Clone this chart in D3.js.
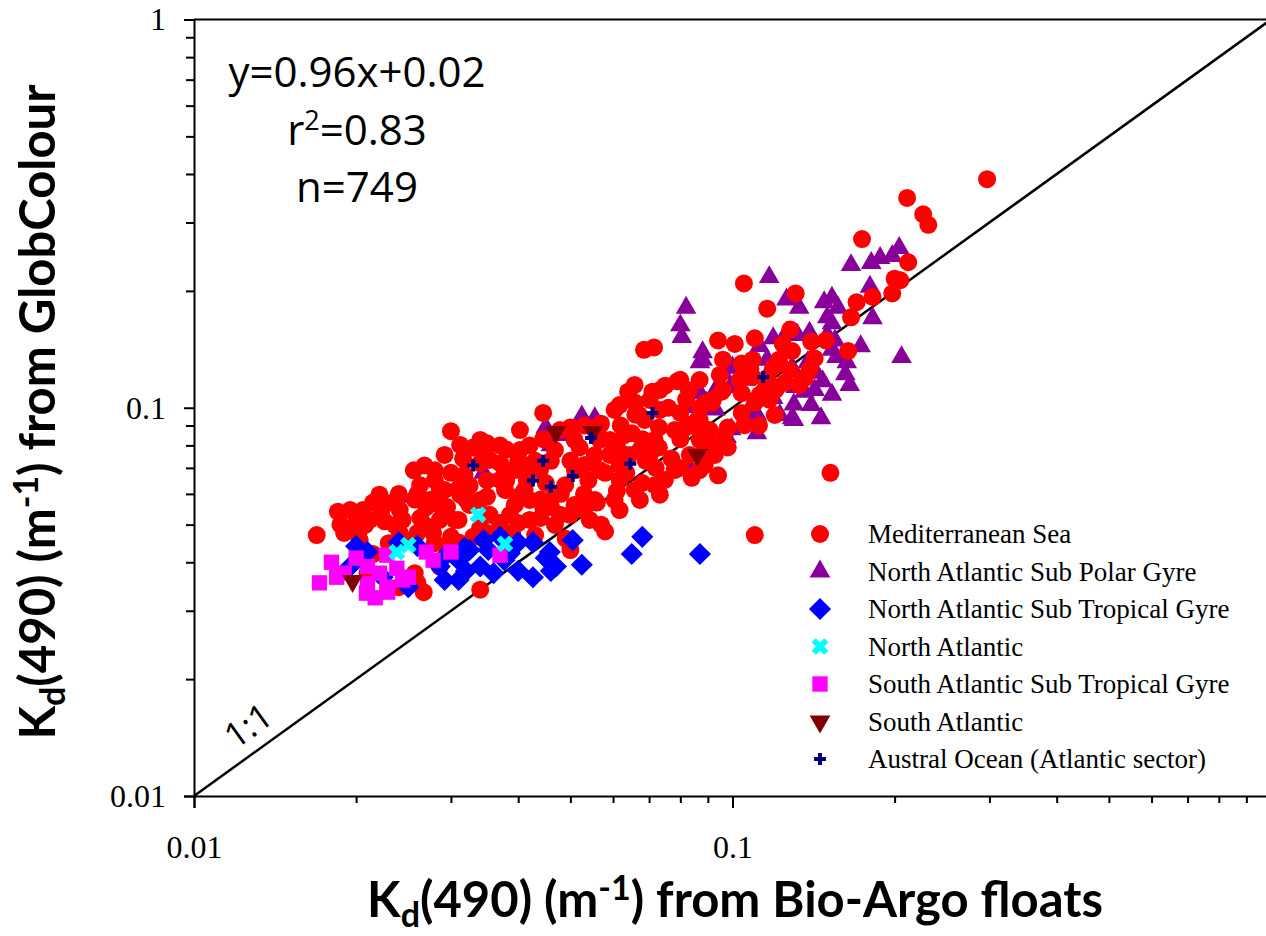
<!DOCTYPE html>
<html>
<head>
<meta charset="utf-8">
<script src="https://cdn.jsdelivr.net/npm/d3@7"></script>
<style>
    body { margin: 0; background: #fff; }
    svg { display: block; }
</style>
</head>
<body>
<div id="chart"></div>
<script>
// Kd(490) GlobColour vs Bio-Argo
var medSea = [
    [0.297, 0.388], [0.211, 0.347], [0.226, 0.315], [0.231, 0.296], [0.174, 0.272], [0.212, 0.237], [0.200, 0.215], [0.198, 0.197], [0.182, 0.193], [0.170, 0.187],
    [0.166, 0.171], [0.164, 0.140], [0.140, 0.148], [0.131, 0.197], [0.116, 0.180], [0.105, 0.209], [0.110, 0.151], [0.101, 0.146], [0.094, 0.149], [0.096, 0.133],
    [0.109, 0.133], [0.106, 0.127], [0.124, 0.146], [0.129, 0.140], [0.122, 0.133], [0.109, 0.120], [0.116, 0.119], [0.125, 0.116], [0.120, 0.111], [0.110, 0.103],
    [0.104, 0.109], [0.096, 0.111], [0.083, 0.111], [0.080, 0.118], [0.089, 0.103], [0.092, 0.105], [0.104, 0.097], [0.098, 0.089], [0.086, 0.093], [0.080, 0.097],
    [0.082, 0.089], [0.205, 0.213], [0.152, 0.068], [0.110, 0.047],
    [0.0445, 0.097], [0.050, 0.089], [0.064, 0.110], [0.071, 0.110], [0.075, 0.114], [0.079, 0.117], [0.0955, 0.110], [0.104, 0.130], [0.108, 0.126], [0.119, 0.127],
    [0.121, 0.113], [0.111, 0.105], [0.098, 0.079], [0.094, 0.067], [0.084, 0.066], [0.080, 0.070], [0.077, 0.074], [0.072, 0.070], [0.068, 0.064], [0.061, 0.061],
    [0.056, 0.057], [0.057, 0.050], [0.058, 0.048], [0.049, 0.046], [0.050, 0.043], [0.066, 0.103], [0.066, 0.096], [0.062, 0.090], [0.057, 0.091], [0.057, 0.083],
    [0.052, 0.079], [0.050, 0.073], [0.046, 0.073], [0.048, 0.060], [0.053, 0.060], [0.0445, 0.0555], [0.0625, 0.076], [0.068, 0.083], [0.073, 0.089], [0.076, 0.100],
    [0.086, 0.089], [0.087, 0.100], [0.080, 0.083], [0.073, 0.079], [0.069, 0.073], [0.0635, 0.068], [0.058, 0.068], [0.054, 0.065], [0.061, 0.081], [0.065, 0.086],
    [0.0915, 0.103], [0.082, 0.105],
    [0.030, 0.087], [0.033, 0.079], [0.035, 0.081], [0.038, 0.078], [0.0316, 0.074], [0.030, 0.068], [0.028, 0.065], [0.034, 0.072], [0.037, 0.072], [0.040, 0.073],
    [0.043, 0.073], [0.0445, 0.083], [0.024, 0.060], [0.026, 0.060], [0.0286, 0.061], [0.031, 0.062], [0.0325, 0.063], [0.035, 0.065], [0.038, 0.065], [0.0415, 0.065],
    [0.045, 0.064], [0.0215, 0.057], [0.0234, 0.057], [0.0257, 0.058], [0.0185, 0.054], [0.0206, 0.0545], [0.0223, 0.0545], [0.0241, 0.0545], [0.027, 0.0555], [0.0295, 0.0555],
    [0.032, 0.058], [0.035, 0.059], [0.040, 0.059], [0.044, 0.058], [0.046, 0.0555], [0.0187, 0.050], [0.020, 0.0505], [0.0212, 0.0514], [0.0226, 0.051], [0.0244, 0.0514],
    [0.0263, 0.052], [0.0286, 0.0514], [0.031, 0.0514], [0.034, 0.049], [0.037, 0.0505], [0.040, 0.0505], [0.044, 0.052], [0.0169, 0.047], [0.019, 0.0476], [0.0202, 0.0476],
    [0.0241, 0.0476], [0.026, 0.0476], [0.0278, 0.0476], [0.030, 0.0465], [0.033, 0.0465], [0.035, 0.0476], [0.039, 0.0476], [0.023, 0.0448], [0.028, 0.0448], [0.0295, 0.044],
    [0.031, 0.045], [0.0215, 0.042], [0.021, 0.0375], [0.0257, 0.0375], [0.0286, 0.039], [0.0267, 0.0335], [0.026, 0.0354], [0.024, 0.0345], [0.034, 0.034],
    [0.051, 0.069], [0.0555, 0.0755], [0.067, 0.096], [0.0717, 0.0826], [0.053, 0.0545], [0.0617, 0.0545], [0.042, 0.080], [0.0478, 0.0876], [0.0403, 0.0876], [0.0354, 0.0734],
    [0.0256, 0.069], [0.0869, 0.0826], [0.0907, 0.0876], [0.0927, 0.0756], [0.0833, 0.0756], [0.0749, 0.0652], [0.0644, 0.0756], [0.0555, 0.0579], [0.0499, 0.053], [0.042, 0.0579],
    [0.0394, 0.0691], [0.034, 0.0579], [0.0286, 0.056], [0.0567, 0.0691], [0.0702, 0.0756], [0.0869, 0.0691], [0.112, 0.090], [0.117, 0.105], [0.133, 0.1145], [0.139, 0.125],
    [0.149, 0.149], [0.128, 0.159],
    [0.0268, 0.071], [0.0292, 0.0756], [0.034, 0.0826], [0.037, 0.080], [0.0403, 0.0778], [0.0468, 0.0778], [0.0531, 0.090], [0.0592, 0.0756], [0.063, 0.085], [0.0687, 0.093],
    [0.0702, 0.1047], [0.0733, 0.0987], [0.0781, 0.0876], [0.0833, 0.0903], [0.0888, 0.0778], [0.0915, 0.0802], [0.0733, 0.0597], [0.0673, 0.0579], [0.0617, 0.0652], [0.0478, 0.053],
    [0.042, 0.0514], [0.0386, 0.053], [0.0354, 0.053], [0.0325, 0.0562], [0.0305, 0.0514], [0.0268, 0.0499], [0.037, 0.0652], [0.0411, 0.0614], [0.0489, 0.0632], [0.0531, 0.0712],
    [0.0439, 0.0691], [0.0312, 0.0597], [0.0274, 0.0579], [0.0221, 0.0597], [0.0203, 0.0456], [0.0252, 0.0456], [0.0567, 0.0826], [0.0604, 0.0987], [0.0658, 0.1145], [0.0869, 0.093],
    [0.1123, 0.1079], [0.1198, 0.0958], [0.1362, 0.1192], [0.1421, 0.134], [0.0685, 0.141], [0.0715, 0.143],
    [0.028, 0.069], [0.0292, 0.0614], [0.0318, 0.0672], [0.0378, 0.0614], [0.0394, 0.0562], [0.0468, 0.0597], [0.0509, 0.0562], [0.0543, 0.0514], [0.0604, 0.0579], [0.0658, 0.0614],
    [0.0717, 0.0632], [0.0781, 0.0691], [0.0888, 0.0712], [0.0617, 0.0712], [0.0673, 0.0778], [0.0567, 0.0902], [0.0617, 0.1016], [0.0509, 0.0826], [0.042, 0.0712], [0.0378, 0.0691],
    [0.0347, 0.0778], [0.0312, 0.0802], [0.0263, 0.0632], [0.0236, 0.0499], [0.0208, 0.0499], [0.0195, 0.0545], [0.0468, 0.0499], [0.043, 0.047], [0.0386, 0.0456], [0.0869, 0.0876],
    [0.0967, 0.0851], [0.1053, 0.0902], [0.1147, 0.1111], [0.1277, 0.1251], [0.1031, 0.1179], [0.0947, 0.1215], [0.0869, 0.1179], [0.0733, 0.1111], [0.0592, 0.0826]
];
var naSubPolar = [
    [0.204, 0.258], [0.198, 0.246], [0.188, 0.243], [0.181, 0.236], [0.166, 0.233], [0.117, 0.217], [0.180, 0.205], [0.153, 0.192], [0.148, 0.187], [0.126, 0.190],
    [0.133, 0.181], [0.157, 0.181], [0.150, 0.171], [0.182, 0.170], [0.153, 0.165], [0.082, 0.181], [0.080, 0.163], [0.0805, 0.152], [0.088, 0.139], [0.088, 0.133],
    [0.119, 0.151], [0.126, 0.156], [0.132, 0.154], [0.139, 0.156], [0.150, 0.154], [0.155, 0.149], [0.153, 0.141], [0.156, 0.135], [0.163, 0.131], [0.206, 0.135],
    [0.138, 0.131], [0.100, 0.127], [0.103, 0.127], [0.129, 0.127], [0.131, 0.113], [0.143, 0.123], [0.147, 0.117], [0.153, 0.108], [0.130, 0.102], [0.129, 0.094],
    [0.111, 0.086], [0.0995, 0.088], [0.093, 0.099], [0.099, 0.113], [0.116, 0.133], [0.109, 0.093], [0.087, 0.109],
    [0.0525, 0.095], [0.0555, 0.094], [0.045, 0.089], [0.049, 0.085], [0.046, 0.080], [0.0345, 0.068], [0.0255, 0.059], [0.083, 0.071], [0.082, 0.1005],
    [0.0895, 0.103], [0.093, 0.111], [0.096, 0.123], [0.111, 0.096], [0.0975, 0.084], [0.106, 0.096], [0.130, 0.093], [0.119, 0.106], [0.087, 0.131], [0.106, 0.118],
    [0.116, 0.1215], [0.146, 0.094], [0.140, 0.1016], [0.162, 0.122], [0.173, 0.144], [0.136, 0.110],
    [0.1123, 0.1442], [0.1421, 0.111], [0.1224, 0.0958], [0.1651, 0.1145]
];
var naSubTropical = [
    [0.020, 0.044], [0.021, 0.0425], [0.024, 0.045], [0.026, 0.044], [0.029, 0.041], [0.031, 0.0405], [0.0345, 0.0456], [0.037, 0.0465], [0.040, 0.045], [0.0426, 0.045],
    [0.045, 0.041], [0.031, 0.036], [0.034, 0.039], [0.036, 0.0375], [0.0377, 0.0405], [0.040, 0.038], [0.0426, 0.0366], [0.025, 0.0345], [0.0195, 0.039], [0.0224, 0.0366],
    [0.032, 0.038], [0.0286, 0.039], [0.046, 0.038], [0.0505, 0.0456], [0.068, 0.0465], [0.065, 0.042], [0.087, 0.042], [0.0525, 0.0394], [0.0458, 0.0425], [0.047, 0.039],
    [0.0386, 0.0422], [0.0352, 0.043], [0.0318, 0.0436], [0.0325, 0.043], [0.0292, 0.036]
];
var northAtlantic = [[0.0337, 0.053], [0.025, 0.0443], [0.0238, 0.0425], [0.0378, 0.0446]];
var saSubTropical = [
    [0.018, 0.040], [0.0171, 0.0354], [0.020, 0.041], [0.0228, 0.0417], [0.027, 0.0425], [0.030, 0.0425], [0.0278, 0.0405], [0.037, 0.0417], [0.019, 0.0375], [0.021, 0.039],
    [0.0221, 0.0375], [0.0238, 0.0386], [0.025, 0.0366], [0.021, 0.0352], [0.0228, 0.0345], [0.0244, 0.036], [0.0209, 0.0333], [0.0229, 0.0335], [0.0184, 0.0366], [0.0217, 0.0324]
];
var southAtlantic = [[0.0197, 0.0358], [0.047, 0.0866], [0.055, 0.0866], [0.086, 0.0756]];
var australOcean = [[0.033, 0.071], [0.0445, 0.073], [0.0426, 0.065], [0.046, 0.0626], [0.0505, 0.0667], [0.0546, 0.0836], [0.0646, 0.0717], [0.071, 0.097], [0.114, 0.120]];

var seriesNames = ["Mediterranean Sea", "North Atlantic Sub Polar Gyre", "North Atlantic Sub Tropical Gyre", "North Atlantic", "South Atlantic Sub Tropical Gyre", "South Atlantic", "Austral Ocean (Atlantic sector)"];
var seriesData = [medSea, naSubPolar, naSubTropical, northAtlantic, saSubTropical, southAtlantic, australOcean];
var seriesColors = ["#ff0000", "#880099", "#0000ff", "#00ffff", "#ff00ff", "#800000", "#000080"];
var seriesShapes = ["circle", "triangle", "diamond", "x", "square", "down", "plus"];
var drawOrder = [1, 0, 2, 4, 3, 5, 6];

var logTicks = [0.01, 0.02, 0.03, 0.04, 0.05, 0.06, 0.07, 0.08, 0.09, 0.1, 0.2, 0.3, 0.4, 0.5, 0.6, 0.7, 0.8, 0.9, 1];
var xLabelTicks = [0.01, 0.1];
var yLabelTicks = [0.01, 0.1, 1];
var statLines = ["y=0.96x+0.02", "r2=0.83", "n=749"];

var width = 1266, height = 936;
var svg = d3.select("#chart").append("svg").attr("width", width).attr("height", height);

var x = d3.scaleLog().domain([0.01, 1]).range([194, 1271]);
var y = d3.scaleLog().domain([0.01, 1]).range([796, 19.5]);

function isMajor(d) {
    return Math.abs(Math.log10(d) - Math.round(Math.log10(d))) < 1e-6;
}

// y axis, ticks outside
var yAxis = svg.append("g").attr("transform", "translate(" + x(0.01) + ",0)")
    .call(d3.axisLeft(y).tickValues(logTicks).tickSizeOuter(0).tickSize(10).tickFormat(function (d) {
        return yLabelTicks.indexOf(d) >= 0 ? String(d) : "";
    }));
yAxis.selectAll(".tick line").attr("x2", function (d) { return isMajor(d) ? -10 : -8; });
yAxis.selectAll(".tick text").attr("x", -28).attr("dy", "0.32em")
    .style("font-family", "'Liberation Serif', 'Times New Roman', serif").style("font-size", "32px").attr("fill", "#000");

// x axis, ticks below
var xAxis = svg.append("g").attr("transform", "translate(0," + y(0.01) + ")")
    .call(d3.axisBottom(x).tickValues(logTicks.filter(function (d) { return d < 1; })).tickSizeOuter(0).tickSize(12).tickFormat(function (d) {
        return xLabelTicks.indexOf(d) >= 0 ? String(d) : "";
    }));
xAxis.selectAll(".tick line").attr("y2", function (d) { return isMajor(d) ? 12 : 7; });
xAxis.selectAll(".tick text").attr("y", 62).attr("dy", 0)
    .style("font-family", "'Liberation Serif', 'Times New Roman', serif").style("font-size", "32px").attr("fill", "#000");

svg.selectAll(".domain, .tick line").attr("stroke", "#000").attr("stroke-width", 2);

// top frame
svg.append("line").attr("x1", x(0.01)).attr("x2", x(1)).attr("y1", y(1)).attr("y2", y(1))
    .attr("stroke", "#000").attr("stroke-width", 2);

// 1:1 line
svg.append("line").attr("x1", x(0.01)).attr("y1", y(0.01)).attr("x2", x(1)).attr("y2", y(1))
    .attr("stroke", "#000").attr("stroke-width", 2.5);
var angle = Math.atan2(y(0.01) - y(1), x(1) - x(0.01)) * 180 / Math.PI;
svg.append("text").attr("transform", "translate(" + x(0.01343) + "," + y(0.01343) + ") rotate(" + (-angle) + ")")
    .attr("y", -13).attr("text-anchor", "middle")
    .style("font-family", "'Open Sans', sans-serif").style("font-size", "35px").text("1:1");

function symbolFor(shape) {
    if (shape == "circle") return { path: d3.symbol(d3.symbolCircle, 254)(), rot: 0 };
    if (shape == "triangle") return { path: d3.symbol(d3.symbolTriangle, 185)(), rot: 0 };
    if (shape == "down") return { path: d3.symbol(d3.symbolTriangle, 185)(), rot: 180 };
    if (shape == "diamond") return { path: d3.symbol(d3.symbolSquare, 245)(), rot: 45 };
    if (shape == "square") return { path: d3.symbol(d3.symbolSquare, 235)(), rot: 0 };
    if (shape == "x") return { path: d3.symbol(d3.symbolCross, 175)(), rot: 45 };
    return { path: d3.symbol(d3.symbolCross, 80)(), rot: 0 };
}

// points
drawOrder.forEach(function (i) {
    var sym = symbolFor(seriesShapes[i]);
    svg.append("g").selectAll("path").data(seriesData[i]).enter().append("path")
        .attr("d", sym.path)
        .attr("transform", function (d) {
            return "translate(" + x(d[0]) + "," + y(d[1]) + ") rotate(" + sym.rot + ")";
        })
        .attr("fill", seriesColors[i]);
});

// legend
var legend = svg.append("g");
seriesNames.forEach(function (name, i) {
    var rowY = 534 + i * 37.5;
    var sym = symbolFor(seriesShapes[i]);
    legend.append("path").attr("d", sym.path)
        .attr("transform", "translate(820," + rowY + ") rotate(" + sym.rot + ")")
        .attr("fill", seriesColors[i]);
    legend.append("text").attr("x", 868).attr("y", rowY + 9)
        .style("font-family", "'Liberation Serif', 'Times New Roman', serif").style("font-size", "27px").text(name);
});

// regression stats
var stats = svg.append("text").attr("text-anchor", "middle")
    .style("font-family", "'Open Sans', sans-serif").style("font-size", "42px");
stats.append("tspan").attr("x", 357).attr("y", 87).text(statLines[0]);
var r2 = stats.append("tspan").attr("x", 357).attr("y", 145).text("r");
r2.append("tspan").attr("dy", -15).style("font-size", "27px").text("2");
stats.append("tspan").attr("dy", 15).text(statLines[1].slice(2));
stats.append("tspan").attr("x", 357).attr("y", 202).text(statLines[2]);

// axis titles
var titleFont = "Lato, 'Open Sans', sans-serif";
function kdTitle(t, tail) {
    t.append("tspan").text("K");
    t.append("tspan").attr("dy", 10).style("font-size", "34px").text("d");
    t.append("tspan").attr("dy", -10).text("(490) (m");
    t.append("tspan").attr("dy", -17).style("font-size", "34px").text("-1");
    t.append("tspan").attr("dy", 17).text(") " + tail);
}
var xTitle = svg.append("text").attr("x", 735).attr("y", 917).attr("text-anchor", "middle")
    .style("font-family", titleFont).style("font-weight", "bold").style("font-size", "49px");
kdTitle(xTitle, "from Bio-Argo floats");
var yTitle = svg.append("text").attr("transform", "translate(55,412) rotate(-90)").attr("text-anchor", "middle")
    .style("font-family", titleFont).style("font-weight", "bold").style("font-size", "49px");
kdTitle(yTitle, "from GlobColour");
</script>
</body>
</html>
